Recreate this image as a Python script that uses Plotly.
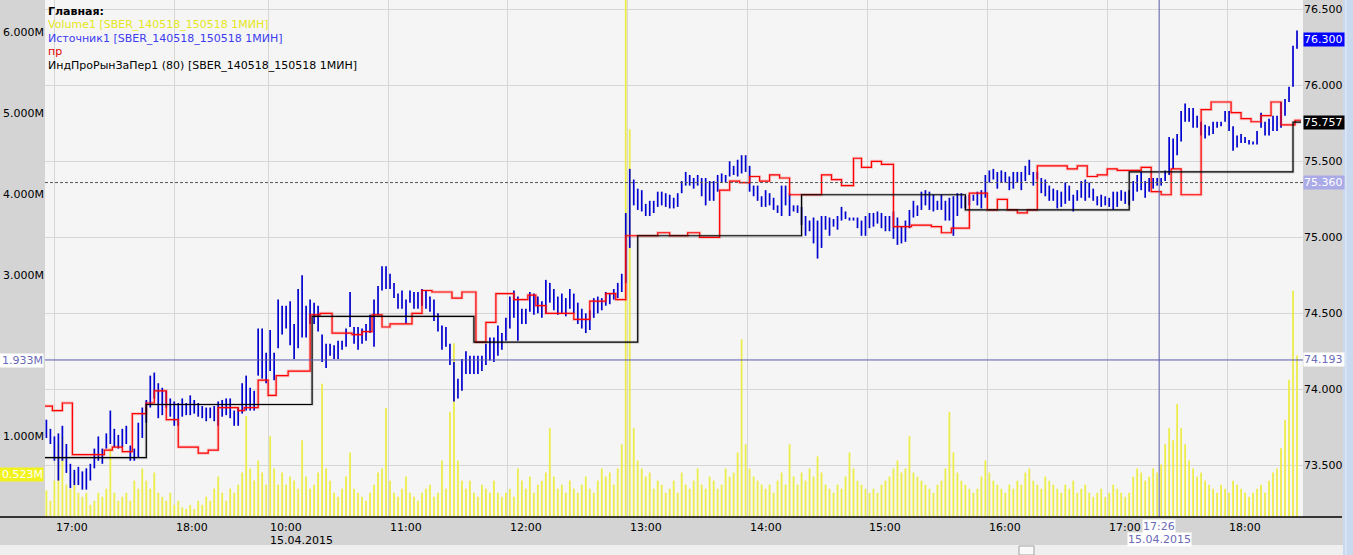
import plotly.graph_objects as go

# ---------------- DATA ----------------
# 2-minute price bars (high / low), session 14.04 from 16:56 and session 15.04 from 10:01
day1_high = [73.80,73.74,73.69,73.71,73.76,73.64,73.51,73.47,73.49,73.46,73.48,73.51,73.61,73.69,73.61,73.71,73.86,73.74,73.70,73.74,
             73.76,73.63,73.61,73.78,73.88,73.93,74.09,74.11,74.04,74.01,73.99,73.94,73.92,73.91,73.94,73.91,73.96,73.93,73.91,73.89,
             73.88,73.88,73.89,73.92,73.93,73.94,73.94,73.86,73.88,74.04,74.09,74.01,73.99,74.40,74.40,74.24]
day1_low = [73.68,73.64,73.53,73.40,73.53,73.45,73.35,73.37,73.37,73.34,73.34,73.40,73.48,73.53,73.51,73.61,73.64,73.62,73.61,73.62,
            73.64,73.53,73.53,73.55,73.68,73.78,73.88,73.94,73.81,73.83,73.88,73.82,73.76,73.76,73.82,73.83,73.83,73.84,73.82,73.81,
            73.79,73.81,73.79,73.76,73.82,73.83,73.81,73.76,73.76,73.84,73.86,73.86,73.86,74.09,74.07,74.04]
day2_high = [74.39,74.24,74.59,74.55,74.55,74.58,74.43,74.66,74.75,74.55,74.59,74.57,74.55,74.36,74.30,74.30,74.29,74.32,74.32,74.40,
             74.64,74.41,74.41,74.40,74.43,74.49,74.59,74.68,74.81,74.81,74.76,74.70,74.63,74.65,74.59,74.65,74.64,74.64,74.66,74.65,
             74.61,74.59,74.50,74.42,74.41,74.30,74.18,74.07,74.20,74.25,74.22,74.22,74.22,74.22,74.30,74.34,74.34,74.42,74.37,74.47,
             74.61,74.65,74.61,74.53,74.53,74.64,74.63,74.61,74.58,74.72,74.70,74.66,74.61,74.63,74.60,74.66,74.63,74.57,74.53,74.50,
             74.52,74.60,74.61,74.60,74.64,74.63,74.66,74.70,74.76,75.16,75.45,75.38,75.32,75.31,75.22,75.24,75.24,75.30,75.30,75.29,
             75.28,75.26,75.29,75.37,75.43,75.41,75.39,75.41,75.39,75.39,75.37,75.37,75.41,75.42,75.41,75.50,75.47,75.51,75.54,75.54,
             75.47,75.34,75.34,75.27,75.31,75.29,75.26,75.21,75.34,75.34,75.29,75.21,75.21,75.20,75.14,75.11,75.13,75.11,75.14,75.14,
             75.13,75.12,75.14,75.20,75.17,75.13,75.13,75.13,75.11,75.14,75.16,75.16,75.17,75.16,75.14,75.14,75.17,75.13,75.07,75.11,
             75.18,75.24,75.21,75.30,75.31,75.30,75.28,75.24,75.28,75.24,75.26,75.27,75.29,75.29,75.27,75.28,75.28,75.30,75.31,75.41,
             75.44,75.45,75.43,75.44,75.43,75.40,75.43,75.43,75.43,75.47,75.51,75.43,75.43,75.39,75.38,75.34,75.32,75.31,75.30,75.36,
             75.34,75.28,75.31,75.37,75.38,75.36,75.32,75.27,75.28,75.27,75.26,75.30,75.30,75.31,75.30,75.31,75.37,75.41,75.43,75.37,
             75.39,75.39,75.39,75.39,75.44,75.66,75.65,75.68,75.83,75.88,75.85,75.85,75.80,75.76,75.74,75.73,75.76,75.76,75.76,75.83,
             75.83,75.73,75.67,75.68,75.66,75.64,75.63,75.70,75.82,75.76,75.78,75.80,75.80,75.89,75.91,75.99,76.26,76.36]
day2_low = [74.12,74.06,74.27,74.36,74.40,74.29,74.20,74.27,74.34,74.34,74.43,74.43,74.38,74.18,74.14,74.22,74.20,74.20,74.26,74.28,
            74.41,74.30,74.26,74.30,74.32,74.37,74.28,74.49,74.65,74.66,74.66,74.60,74.53,74.53,74.43,74.57,74.53,74.53,74.55,74.53,
            74.51,74.45,74.38,74.26,74.28,74.16,73.92,73.94,73.99,74.10,74.10,74.10,74.10,74.12,74.16,74.19,74.18,74.22,74.26,74.32,
            74.40,74.47,74.32,74.43,74.43,74.51,74.49,74.50,74.47,74.50,74.57,74.52,74.49,74.50,74.48,74.53,74.50,74.43,74.40,74.37,
            74.39,74.47,74.50,74.52,74.55,74.56,74.59,74.60,74.64,74.70,74.93,75.21,75.18,75.17,75.14,75.14,75.16,75.20,75.21,75.20,
            75.19,75.19,75.20,75.29,75.34,75.34,75.32,75.34,75.27,75.21,75.24,75.24,75.30,75.36,75.36,75.40,75.41,75.40,75.42,75.43,
            75.30,75.27,75.24,75.20,75.20,75.21,75.18,75.16,75.14,75.21,75.14,75.17,75.16,75.08,75.01,75.04,74.96,74.86,74.93,75.05,
            75.01,75.07,75.05,75.11,75.12,75.11,75.11,75.06,75.01,75.01,75.06,75.07,75.09,75.06,75.04,75.04,74.99,74.95,74.96,74.97,
            75.06,75.13,75.14,75.18,75.21,75.18,75.17,75.18,75.18,75.11,75.11,75.01,75.14,75.19,75.19,75.21,75.24,75.21,75.19,75.26,
            75.36,75.38,75.32,75.36,75.36,75.31,75.32,75.36,75.31,75.37,75.41,75.34,75.38,75.29,75.27,75.24,75.24,75.19,75.20,75.22,
            75.24,75.17,75.24,75.26,75.24,75.26,75.24,75.21,75.20,75.21,75.20,75.18,75.20,75.24,75.22,75.21,75.24,75.30,75.31,75.26,
            75.30,75.32,75.34,75.34,75.37,75.41,75.45,75.54,75.63,75.76,75.76,75.72,75.72,75.67,75.65,75.67,75.68,75.72,75.73,75.76,
            75.70,75.57,75.59,75.62,75.62,75.61,75.61,75.61,75.72,75.67,75.67,75.70,75.70,75.72,75.80,75.89,75.99,76.24]

# volume per 2-minute bar, millions
vol_day1 = [0.33,0.20,0.45,0.90,1.00,0.40,0.35,0.55,0.30,0.25,0.30,0.15,0.20,0.30,0.25,0.35,0.85,0.30,0.20,0.25,
            0.30,0.20,0.45,0.35,0.60,0.45,0.35,0.55,0.30,0.25,0.20,0.30,0.15,0.20,0.12,0.10,0.15,0.10,0.20,0.15,
            0.25,0.20,0.35,0.50,0.30,0.20,0.35,0.30,0.40,0.55,1.25,0.60,0.45,0.70,0.55,0.40]
vol_day2 = [1.00,0.60,0.40,0.55,0.40,0.50,0.45,0.35,0.95,0.50,0.35,0.40,0.55,1.65,0.60,0.45,0.30,0.25,0.35,0.50,
            0.80,0.35,0.30,0.25,0.20,0.30,0.40,0.55,0.60,1.35,0.45,0.30,0.25,0.35,0.50,0.30,0.25,0.20,0.30,0.35,
            0.40,0.25,0.30,0.70,0.35,1.30,2.15,0.70,0.45,0.35,0.45,0.30,0.25,0.40,0.35,0.30,0.45,0.30,0.25,0.30,
            0.35,0.25,0.60,0.45,0.35,0.50,0.30,0.40,0.45,0.55,1.10,0.50,0.35,0.40,0.30,0.45,0.35,0.30,0.40,0.50,
            0.35,0.30,0.45,0.60,0.50,0.55,0.40,0.60,0.90,6.50,4.80,1.10,0.70,0.60,0.50,0.55,0.35,0.45,0.40,0.30,
            0.35,0.45,0.30,0.55,0.40,0.35,0.45,0.60,0.40,0.35,0.50,0.45,0.35,0.40,0.60,0.50,0.55,0.80,2.20,0.90,
            0.60,0.50,0.45,0.40,0.35,0.40,0.30,0.45,0.55,0.40,0.90,0.50,0.40,0.55,0.45,0.60,0.50,0.75,0.55,0.40,
            0.35,0.30,0.40,0.35,0.50,0.80,0.60,0.45,0.40,0.35,0.30,0.35,0.30,0.40,0.45,0.50,0.60,0.70,0.55,0.60,
            1.00,0.55,0.50,0.45,0.40,0.35,0.30,0.40,0.45,0.60,1.30,0.80,0.55,0.45,0.40,0.35,0.30,0.35,0.50,0.70,
            0.55,0.45,0.40,0.35,0.30,0.40,0.35,0.45,0.40,0.55,0.60,0.45,0.40,0.35,0.50,0.45,0.40,0.35,0.30,0.40,
            0.35,0.45,0.30,0.35,0.40,0.30,0.25,0.30,0.35,0.25,0.30,0.40,0.35,0.30,0.25,0.30,0.50,0.60,0.55,0.45,
            0.50,0.60,0.55,0.65,0.90,1.10,0.95,1.40,1.10,0.90,0.70,0.60,0.50,0.55,0.45,0.40,0.35,0.30,0.40,0.35,
            0.30,0.45,0.40,0.35,0.30,0.25,0.30,0.35,0.40,0.30,0.45,0.55,0.60,0.85,1.20,1.70,2.80,2.00]

# "пр" line (step changes)
red_times = ["14.04 16:55","14.04 16:59","14.04 17:04","14.04 17:09","14.04 17:25","14.04 17:29","14.04 17:34","14.04 17:39",
             "14.04 17:46","14.04 17:50","14.04 17:56","14.04 18:02","14.04 18:12","14.04 18:17","14.04 18:22","14.04 18:32",
             "14.04 18:35","14.04 18:42","15.04 10:00","15.04 10:04","15.04 10:10","15.04 10:21","15.04 10:26","15.04 10:32",
             "15.04 10:42","15.04 10:47","15.04 10:52","15.04 10:57","15.04 11:01","15.04 11:12","15.04 11:17","15.04 11:22",
             "15.04 11:32","15.04 11:37","15.04 11:44","15.04 11:49","15.04 11:54","15.04 12:03","15.04 12:10","15.04 12:14",
             "15.04 12:19","15.04 12:33","15.04 12:41","15.04 12:49","15.04 12:54","15.04 12:59","15.04 13:15","15.04 13:21",
             "15.04 13:30","15.04 13:36","15.04 13:46","15.04 13:51","15.04 13:56","15.04 14:01","15.04 14:06","15.04 14:11",
             "15.04 14:16","15.04 14:21","15.04 14:37","15.04 14:42","15.04 14:47","15.04 14:53","15.04 14:57","15.04 15:02",
             "15.04 15:07","15.04 15:13","15.04 15:22","15.04 15:32","15.04 15:37","15.04 15:42","15.04 15:51","15.04 16:00",
             "15.04 16:05","15.04 16:10","15.04 16:15","15.04 16:20","15.04 16:25","15.04 16:40","15.04 16:45","15.04 16:50",
             "15.04 16:55","15.04 17:00","15.04 17:05","15.04 17:17","15.04 17:22","15.04 17:27","15.04 17:32","15.04 17:37",
             "15.04 17:47","15.04 17:52","15.04 18:02","15.04 18:07","15.04 18:12","15.04 18:17","15.04 18:22","15.04 18:27",
             "15.04 18:34","15.04 18:37"]
red_values = [73.89,73.86,73.91,73.57,73.60,73.62,73.59,73.84,73.91,73.99,73.80,73.62,73.58,73.60,73.88,73.86,73.88,74.06,
              73.96,74.09,74.12,74.49,74.50,74.37,74.36,74.38,74.49,74.41,74.43,74.50,74.65,74.64,74.60,74.64,74.31,74.44,
              74.63,74.59,74.62,74.55,74.50,74.46,74.58,74.63,74.59,75.01,75.03,75.01,75.03,75.00,75.31,75.37,75.36,75.40,
              75.37,75.41,75.39,75.28,75.41,75.38,75.34,75.52,75.46,75.50,75.48,75.07,75.08,75.07,75.03,75.06,75.29,75.18,
              75.25,75.18,75.16,75.18,75.47,75.45,75.47,75.40,75.41,75.45,75.44,75.46,75.30,75.28,75.45,75.28,75.84,75.89,
              75.82,75.78,75.76,75.80,75.89,75.74,75.77,75.77]

# ИндПроРынЗаПер1 (80)
ind_times = ["14.04 16:55","14.04 17:46","15.04 10:22","15.04 11:43","15.04 13:05","15.04 14:27","15.04 15:49",
             "15.04 17:11","15.04 18:33","15.04 18:37"]
ind_values = [73.55,73.90,74.48,74.31,75.01,75.28,75.18,75.43,75.757,75.757]

hour_ticks = ["14.04 17:00","14.04 18:00","15.04 10:00","15.04 11:00","15.04 12:00","15.04 13:00",
              "15.04 14:00","15.04 15:00","15.04 16:00","15.04 17:00","15.04 18:00"]
hour_labels = ["17:00","18:00","10:00","11:00","12:00","13:00","14:00","15:00","16:00","17:00","18:00"]
date_label = "15.04.2015"

price_ticks = [73.5, 74.0, 74.5, 75.0, 75.5, 76.0, 76.5]
volume_ticks = [1, 3, 4, 5, 6]

last_price = 76.300
ind_last = 75.757
ref_price = 75.360
cursor_time = "15.04 17:26"
cursor_price = 74.193
cursor_volume = 1.933
last_volume = 0.523

# ---------------- helpers ----------------
def tindex(stamp):
    d, hm = stamp.split()
    h, m = map(int, hm.split(":"))
    mins = h * 60 + m
    if d == "14.04":
        return mins - (16 * 60 + 55)
    return 112 + mins - 10 * 60

assert len(day1_high) == len(day1_low) == len(vol_day1)
assert len(day2_high) == len(day2_low) == len(vol_day2)

bar_x = [tindex("14.04 16:56") + 2 * k for k in range(len(day1_high))] + \
        [tindex("15.04 10:01") + 2 * k for k in range(len(day2_high))]
highs = day1_high + day2_high
lows = day1_low + day2_low
vols = vol_day1 + vol_day2

seg_x, seg_y = [], []
for x, h, l in zip(bar_x, highs, lows):
    seg_x += [x, x, None]
    seg_y += [l, h, None]

# volume drawn as thin vertical strokes from zero
vseg_x, vseg_y = [], []
for x, v in zip(bar_x, vols):
    vseg_x += [x, x, None]
    vseg_y += [0, v, None]

red_x = [tindex(t) for t in red_times]
ind_x = [tindex(t) for t in ind_times]

FONT = "DejaVu Sans"
W, H = 1353, 555
L, R, T, B = 45, 50, 0, 38
PW, PH = W - L - R, H - T - B

def px(xp):
    return (xp - L) / PW

def py(yp):
    return (PH - yp) / PH

fig = go.Figure()
fig.add_trace(go.Scatter(x=vseg_x, y=vseg_y, mode="lines", line=dict(color="#ECEC4C", width=1.8),
                         yaxis="y", hoverinfo="skip"))
fig.add_trace(go.Scatter(x=seg_x, y=seg_y, mode="lines", line=dict(color="#0000D0", width=1.7),
                         yaxis="y2", hoverinfo="skip"))
fig.add_trace(go.Scatter(x=red_x, y=red_values, mode="lines", line=dict(color="rgba(255,0,0,0.2)", width=3, shape="hv"),
                         yaxis="y2", hoverinfo="skip"))
fig.add_trace(go.Scatter(x=red_x, y=red_values, mode="lines", line=dict(color="#FF0000", width=1.2, shape="hv"),
                         yaxis="y2", hoverinfo="skip"))
fig.add_trace(go.Scatter(x=ind_x, y=ind_values, mode="lines", line=dict(color="rgba(0,0,0,0.15)", width=3, shape="hv"),
                         yaxis="y2", hoverinfo="skip"))
fig.add_trace(go.Scatter(x=ind_x, y=ind_values, mode="lines", line=dict(color="#000000", width=1.2, shape="hv"),
                         yaxis="y2", hoverinfo="skip"))

hour_x = [tindex(t) for t in hour_ticks]

annotations = []
for hx, lab in zip(hour_x, hour_labels):
    annotations.append(dict(x=hx, xref="x", y=0, yref="paper", yanchor="top", xanchor="left", yshift=-2,
                            text=lab, showarrow=False, font=dict(family=FONT, size=11, color="#000000")))
annotations.append(dict(x=tindex("15.04 10:00"), xref="x", y=0, yref="paper", yanchor="top", xanchor="left", yshift=-15,
                        text=date_label, showarrow=False, font=dict(family=FONT, size=11, color="#000000")))
cx = tindex(cursor_time)
annotations.append(dict(x=cx, xref="x", y=0, yref="paper", yanchor="top", xanchor="center", yshift=-2,
                        text=cursor_time.split()[1], showarrow=False, bgcolor="#FFFFFF", borderpad=0,
                        font=dict(family=FONT, size=11, color="#6A6AB8")))
annotations.append(dict(x=cx, xref="x", y=0, yref="paper", yanchor="top", xanchor="center", yshift=-15,
                        text=date_label, showarrow=False, bgcolor="#FFFFFF", borderpad=0,
                        font=dict(family=FONT, size=11, color="#6A6AB8")))

# right side value labels
for val, bg, fg in [(last_price, "#0000FF", "#FFFFFF"), (ind_last, "#000000", "#FFFFFF"),
                    (ref_price, "#AAAAE6", "#FFFFFF"), (cursor_price, "#FFFFFF", "#6A6AB8")]:
    annotations.append(dict(x=1, xref="paper", y=val, yref="y2", xanchor="left", yanchor="middle", xshift=0,
                            text=f"{val:.3f}", showarrow=False, bgcolor=bg, borderpad=0, width=40, align="left",
                            font=dict(family=FONT, size=11, color=fg)))
# left side value labels
for val, bg, fg in [(cursor_volume, "#FFFFFF", "#6A6AB8"), (last_volume, "#F2F21E", "#FFFFFF")]:
    annotations.append(dict(x=0, xref="paper", y=val, yref="y", xanchor="right", yanchor="middle", xshift=-1,
                            text=f"{val:.3f}M", showarrow=False, bgcolor=bg, borderpad=0, width=43, align="right",
                            font=dict(family=FONT, size=11, color=fg)))

# legend block
legend_lines = [("<b>Главная:</b>", "#000000"),
                ("Volume1 [SBER_140518_150518 1МИН]", "#E6E620"),
                ("Источник1 [SBER_140518_150518 1МИН]", "#3C3CF0"),
                ("пр", "#E00000"),
                ("ИндПроРынЗаПер1 (80) [SBER_140518_150518 1МИН]", "#000000")]
for i, (txt, col) in enumerate(legend_lines):
    annotations.append(dict(x=px(46), xref="paper", y=1, yref="paper", xanchor="left", yanchor="middle",
                            yshift=-(11 + 13.5 * i), text=txt, showarrow=False,
                            font=dict(family=FONT, size=11, color=col)))

shapes = [
    dict(type="line", xref="paper", yref="y2", x0=0, x1=1, y0=ref_price, y1=ref_price,
         line=dict(color="#555555", width=1, dash="3px,2px")),
    dict(type="line", xref="paper", yref="y2", x0=0, x1=1, y0=cursor_price, y1=cursor_price,
         line=dict(color="#5A5AB0", width=1)),
    dict(type="line", xref="x", yref="paper", x0=cx, x1=cx, y0=0, y1=1,
         line=dict(color="#5A5AA8", width=1)),
    dict(type="line", xref="paper", yref="paper", x0=px(0), x1=px(1342), y0=0, y1=0,
         line=dict(color="#000000", width=1.5)),
    dict(type="rect", xref="paper", yref="paper", x0=px(0), x1=px(1343), y0=py(555), y1=py(545),
         fillcolor="#EFEFEF", line=dict(width=0)),
    dict(type="rect", xref="paper", yref="paper", x0=px(1019), x1=px(1034), y0=py(555), y1=py(546),
         fillcolor="#FAFAFA", line=dict(color="#A0A0A0", width=1)),
    dict(type="rect", xref="paper", yref="paper", x0=px(1343), x1=px(1353), y0=py(555), y1=py(0),
         fillcolor="#C9D9EF", line=dict(width=0)),
    dict(type="line", xref="paper", yref="paper", x0=px(1346), x1=px(1346), y0=py(555), y1=py(0),
         line=dict(color="#E4ECF8", width=1)),
]

fig.update_layout(
    width=W, height=H,
    margin=dict(l=L, r=R, t=T, b=B, pad=0),
    paper_bgcolor="#D4D4D4", plot_bgcolor="#F5F5F5",
    showlegend=False, hovermode=False,
    font=dict(family=FONT, size=11, color="#000000"),
    xaxis=dict(range=[0.3, 630.0], tickvals=hour_x, showticklabels=False, ticks="",
               showgrid=True, gridcolor="#D6D6D6", gridwidth=1, zeroline=False, showline=False, fixedrange=True),
    yaxis=dict(range=[0, 6.40], side="left", tickvals=volume_ticks,
               ticktext=[f"{v:.3f}M" for v in volume_ticks], showgrid=False, zeroline=False, ticks="",
               tickfont=dict(family=FONT, size=11, color="#000000"), showline=False, fixedrange=True),
    yaxis2=dict(range=[73.160, 76.561], side="right", overlaying="y", tickvals=price_ticks,
                ticktext=[f"{v:.3f}" for v in price_ticks], showgrid=True, gridcolor="#D6D6D6", zeroline=False,
                ticks="", tickfont=dict(family=FONT, size=11, color="#000000"), showline=False, fixedrange=True),
    annotations=annotations,
    shapes=shapes,
)

fig.write_html("out.html", config={"staticPlot": True, "displayModeBar": False},
               post_script="document.body.style.margin='0px';document.body.style.overflow='hidden';")
